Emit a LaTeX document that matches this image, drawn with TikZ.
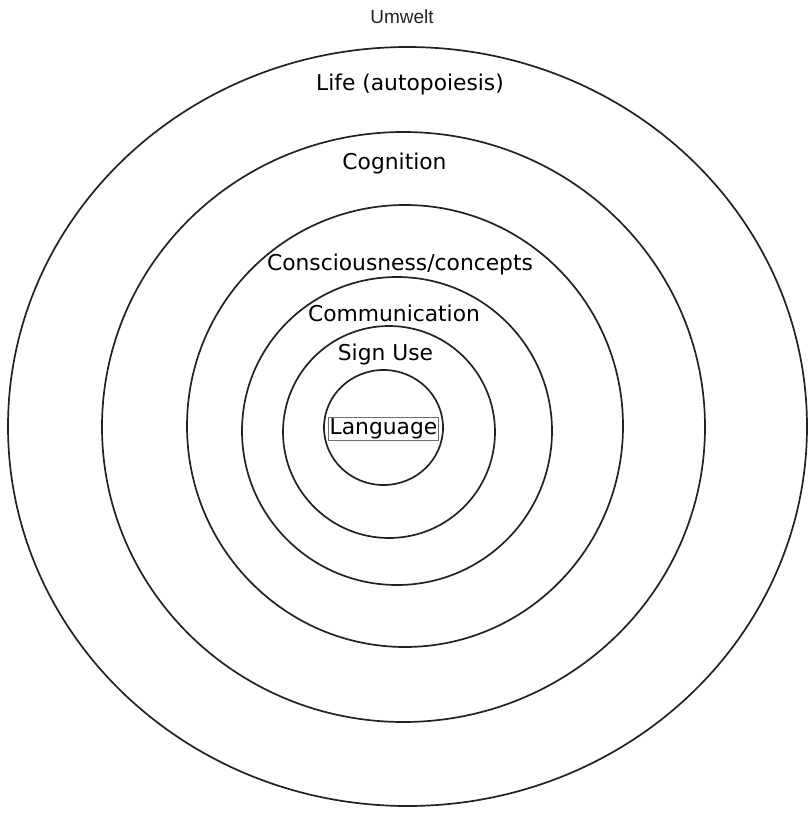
\documentclass[tikz,border=0pt]{standalone}
\usepackage{fontspec}
\setmainfont{DejaVu Sans}
\newfontfamily\umfont{Liberation Sans}
\usepackage{tikz}
\usetikzlibrary{positioning}
\definecolor{ink}{HTML}{222222}
\definecolor{frame}{HTML}{6E6E6E}
\tikzset{
  ring/.style={draw=ink,line width=1.7pt},
  lab/.style={font=\fontsize{21.8}{25}\selectfont,text=black,inner sep=0pt},
  lbox/.style={lab,draw=frame,line width=0.8pt,inner sep=1.2pt},
}
\begin{document}
\begin{tikzpicture}[x=1pt,y=-1pt]
\useasboundingbox (0,0) rectangle (811,814);
% rings, outer to inner
\draw[ring] (407.5,426.5) ellipse [x radius=399.5,y radius=379.5];
\draw[ring] (403.5,427) ellipse [x radius=301.5,y radius=295];
\draw[ring] (405,426) ellipse [x radius=218,y radius=221];
\draw[ring] (397,431) ellipse [x radius=155,y radius=154];
\draw[ring] (389,432) ellipse [x radius=106,y radius=106];
\draw[ring] (383.5,427.5) ellipse [x radius=59.5,y radius=57.5];
% labels
\node[lab,font=\umfont\fontsize{19}{22}\selectfont,text=ink] (umwelt) at (402,17) {Umwelt};
\node[lab] (life) at (410,84) {Life (autopoiesis)};
\node[lab] (cog) at (394.5,163) {Cognition};
\node[lab] (cons) at (400,264) {Consciousness/concepts};
\node[lab] (comm) at (394,313) {Communication};
\node[lab] (sign) at (385.5,354) {Sign Use};
\node[lbox] (lang) at (383.5,428.5) {Language};
\end{tikzpicture}
\end{document}
